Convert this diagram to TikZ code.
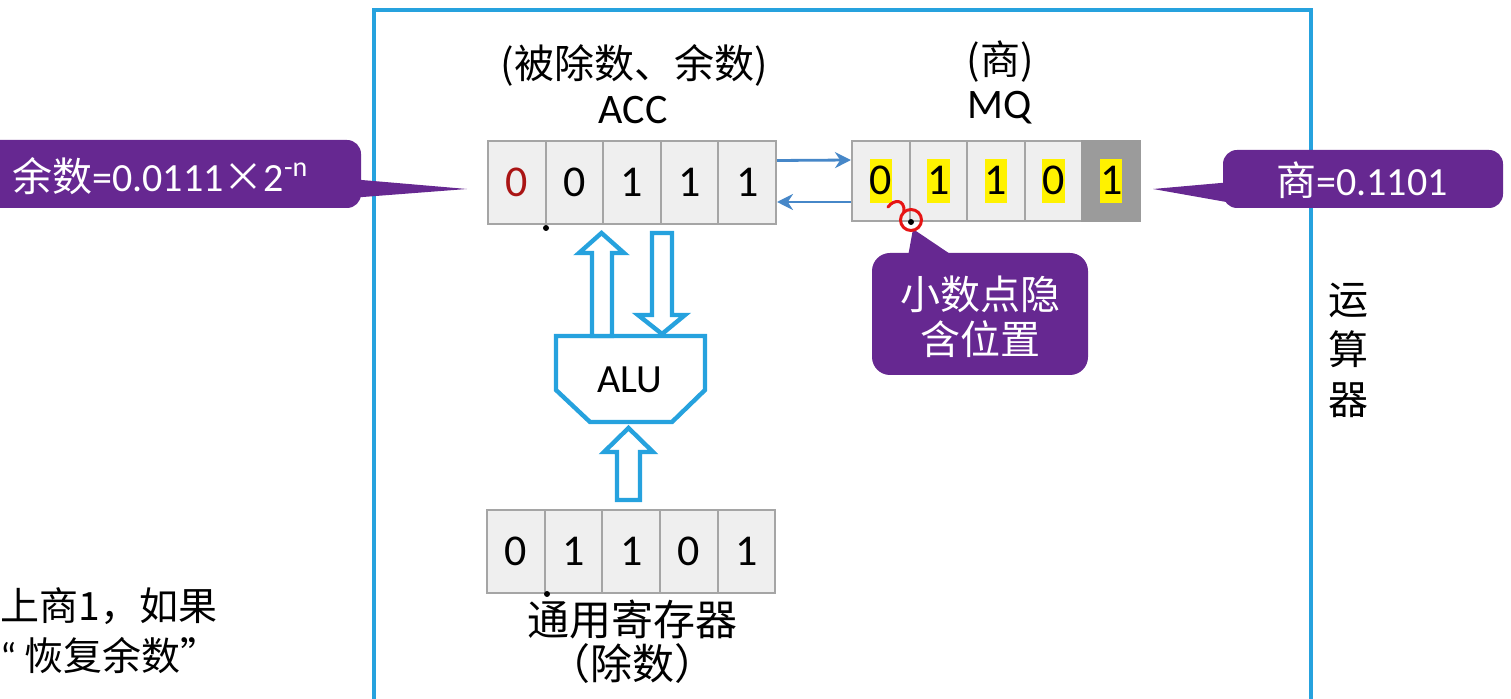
\documentclass[tikz,border=0pt]{standalone}
\usepackage{fontspec}
\setmainfont{Carlito}
\newfontfamily\cjk{Noto Sans CJK SC}
\usetikzlibrary{calc,arrows.meta}
\definecolor{frameblue}{RGB}{38,162,222}
\definecolor{calloutpurple}{RGB}{102,40,145}
\definecolor{cellfill}{RGB}{239,239,239}
\definecolor{celldraw}{RGB}{165,165,165}
\definecolor{darkcell}{RGB}{155,155,155}
\definecolor{linkblue}{RGB}{70,135,200}
\definecolor{darkred}{RGB}{170,20,20}
\definecolor{annred}{RGB}{230,20,20}
\newcommand\hl[1]{{\setlength\fboxsep{0pt}\colorbox{yellow}{\rule[-4pt]{0pt}{22pt}#1}}}
\begin{document}
\begin{tikzpicture}[x=0.5pt,y=-0.5pt,
  cell/.style={draw=celldraw, fill=cellfill, line width=1pt, minimum width=28.8pt, minimum height=41.5pt, inner sep=0pt, font=\fontsize{22}{26}\selectfont},
  mqcell/.style={cell, minimum height=40pt},
  lbl/.style={inner sep=0pt, font=\cjk\fontsize{20}{24}\selectfont},
  latin/.style={inner sep=0pt, font=\fontsize{21}{25}\selectfont},
  calltext/.style={inner sep=0pt, text=white, font=\fontsize{20}{24}\selectfont},
  callbox/.style={fill=calloutpurple, rounded corners=7pt},
  blockarrow/.style={draw=frameblue, line width=2.2pt, fill=white, line join=miter},
  link/.style={draw=linkblue, line width=1.4pt, -{Stealth[length=8pt,width=8pt]}}
]
\useasboundingbox (0,0) rectangle (1511,699);

% frame of the arithmetic unit
\draw[frameblue, line width=2pt] (374,10) rectangle (1311,760);
\node[lbl, align=center, font=\cjk\fontsize{20}{25}\selectfont] (yunsuanqi) at (1348,350) {运\\算\\器};

% ACC register
\node[cell, text=darkred] (a1) at (516.8,182.5) {0};
\node[cell] (a2) at (574.4,182.5) {0};
\node[cell] (a3) at (632.0,182.5) {1};
\node[cell] (a4) at (689.6,182.5) {1};
\node[cell] (a5) at (747.2,182.5) {1};
\node[lbl] (acclbl1) at (634,65) {(被除数、余数)};
\node[latin] (acclbl2) at (633,110) {ACC};

% MQ register
\node[mqcell] (m1) at (880.8,181) {\hl{0}};
\node[mqcell] (m2) at (938.4,181) {\hl{1}};
\node[mqcell] (m3) at (996.0,181) {\hl{1}};
\node[mqcell] (m4) at (1053.6,181) {\hl{0}};
\node[mqcell, fill=darkcell, draw=darkcell] (m5) at (1111.2,181) {\hl{1}};
\node[lbl] (mqlbl1) at (1000,62) {(商)};
\node[latin] (mqlbl2) at (1000,108) {MQ};

% links between ACC and MQ
\draw[link] ($(a5.east)+(0,-22)$) -- ($(m1.west)+(0,-21)$);
\draw[link] ($(m1.west)+(0,21)$) -- ($(a5.east)+(0,19.5)$);

% general register
\node[cell] (g1) at (516.0,551.5) {0};
\node[cell] (g2) at (573.6,551.5) {1};
\node[cell] (g3) at (631.2,551.5) {1};
\node[cell] (g4) at (688.8,551.5) {0};
\node[cell] (g5) at (746.4,551.5) {1};
\node[lbl, font=\cjk\fontsize{21}{25}\selectfont] (gr1) at (632,620) {通用寄存器};
\node[lbl, font=\cjk\fontsize{21}{25}\selectfont] (gr2) at (632,664) {（除数）};

% dots
\fill (546,228) circle (3);
\fill (547,594) circle (3);

% ALU
\draw[blockarrow] (556,336) -- (705,336) -- (705,390) -- (672,422) -- (590,422) -- (556,390) -- cycle;
\node[latin, font=\fontsize{20}{24}\selectfont] (alu) at (630,380) {ALU};

% block arrows
\draw[blockarrow] (592,336) -- (592,253) -- (579,253) -- (601.5,233) -- (624,253) -- (612,253) -- (612,336) -- cycle;
\draw[blockarrow] (652,233) -- (672,233) -- (672,315) -- (685,315) -- (662,334) -- (638,315) -- (652,315) -- cycle;
\draw[blockarrow] (617,500) -- (617,452) -- (604,452) -- (628.5,428) -- (653,452) -- (640,452) -- (640,500) -- cycle;

% left callout
\coordinate (ltip) at (467,189);
\fill[calloutpurple] (350,179) -- (ltip) -- (350,198) -- cycle;
\fill[callbox] (-20,140) rectangle (361,208);
\node[calltext, anchor=west] (remtext) at (12,176) {{\cjk 余数}=0.0111{\cjk ×}2\textsuperscript{-n}};

% right callout
\coordinate (rtip) at (1153,189);
\fill[calloutpurple] (1232,182) -- (rtip) -- (1232,203) -- cycle;
\fill[callbox] (1223,150) rectangle (1503,208);
\node[calltext] (quotext) at (1362,180) {{\cjk 商}=0.1101};

% point callout
\coordinate (ptip) at (913,229);
\fill[calloutpurple] (907,262) -- (ptip) -- (962,262) -- cycle;
\fill[callbox, rounded corners=9pt] (872,253) rectangle (1088,375);
\node[calltext, font=\cjk\fontsize{20}{22.5}\selectfont, align=center] (pointtext) at (980,317) {小数点隐\\含位置};

% red hand annotation
\draw[annred, line width=1.5pt, line cap=round] (888,207) .. controls (894,199) and (905,199) .. (904,212);
\draw[annred, line width=1.5pt] (911,220) circle (10.5);
\fill (911,222) circle (3);

% left text fragment
\node[lbl, anchor=west, font=\cjk\fontsize{19.5}{24}\selectfont] (frag1) at (0,606) {上商1，如果};
\node[lbl, anchor=west, font=\cjk\fontsize{19.5}{24}\selectfont] (frag2) at (0,656) {{\fontspec{Carlito}“}\kern4pt恢复余数”};
\end{tikzpicture}
\end{document}
